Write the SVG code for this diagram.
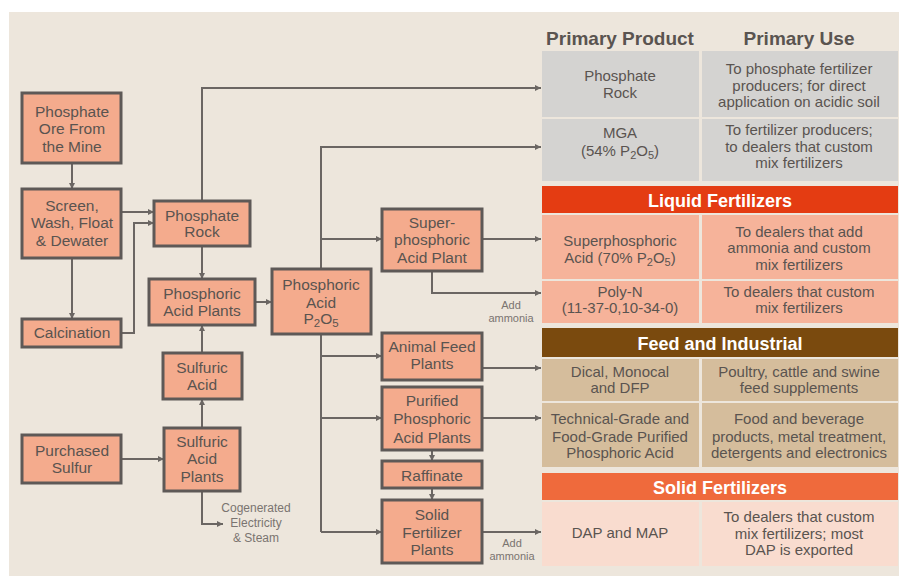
<svg xmlns="http://www.w3.org/2000/svg" width="899" height="576" viewBox="0 0 899 576">
<style>
.node rect{fill:#F4AB8D;stroke:#5E5957;stroke-width:3}
text{font-family:"Liberation Sans","Open Sans",sans-serif;fill:#5A5450;text-anchor:middle}
.n{font-size:15.5px}
.sm{font-size:12px;fill:#7A7470}
.am{font-size:11px;fill:#7A7470}
.t{font-size:15px}
.hd{font-size:19px;font-weight:bold;fill:#5A5450}
.sec{font-size:18px;font-weight:bold;fill:#ffffff}
.conn path{fill:none;stroke:#6B6663;stroke-width:2}
</style>
<defs>
<marker id="ah" viewBox="0 0 10 10" refX="10" refY="5" markerWidth="6" markerHeight="6" markerUnits="userSpaceOnUse" orient="auto">
<path d="M0,0 L10,5 L0,10 Z" fill="#6B6663"/>
</marker>
</defs>
<rect x="0" y="0" width="899" height="576" fill="#ffffff"/>
<rect x="9" y="12" width="890" height="564" fill="#EDE6DC"/>

<!-- table -->
<g id="table">
<text class="hd" x="620" y="45">Primary Product</text>
<text class="hd" x="799" y="45">Primary Use</text>
<rect x="542" y="51" width="157" height="66" fill="#D4D3D1"/>
<rect x="702" y="51" width="196" height="66" fill="#D4D3D1"/>
<rect x="542" y="119" width="157" height="62" fill="#D4D3D1"/>
<rect x="702" y="119" width="196" height="62" fill="#D4D3D1"/>
<rect x="542" y="186" width="356" height="27" fill="#E43C12"/>
<rect x="542" y="215" width="157" height="64" fill="#F6B39A"/>
<rect x="702" y="215" width="196" height="64" fill="#F6B39A"/>
<rect x="542" y="281" width="157" height="42" fill="#F6B39A"/>
<rect x="702" y="281" width="196" height="42" fill="#F6B39A"/>
<rect x="542" y="328" width="356" height="29" fill="#7A4A0E"/>
<rect x="542" y="359" width="157" height="42" fill="#D5BD9C"/>
<rect x="702" y="359" width="196" height="42" fill="#D5BD9C"/>
<rect x="542" y="403" width="157" height="64" fill="#D5BD9C"/>
<rect x="702" y="403" width="196" height="64" fill="#D5BD9C"/>
<rect x="542" y="473" width="356" height="27" fill="#EF6A3C"/>
<rect x="542" y="502" width="157" height="64" fill="#F9DCCF"/>
<rect x="702" y="502" width="196" height="64" fill="#F9DCCF"/>

<text class="t" x="620" y="81">Phosphate</text>
<text class="t" x="620" y="98">Rock</text>
<text class="t" x="799" y="74">To phosphate fertilizer</text>
<text class="t" x="799" y="91">producers; for direct</text>
<text class="t" x="799" y="107">application on acidic soil</text>

<text class="t" x="620" y="138">MGA</text>
<text class="t" x="620" y="156">(54% P<tspan font-size="11" dy="3">2</tspan><tspan dy="-3">O</tspan><tspan font-size="11" dy="3">5</tspan><tspan dy="-3">)</tspan></text>
<text class="t" x="799" y="135">To fertilizer producers;</text>
<text class="t" x="799" y="152">to dealers that custom</text>
<text class="t" x="799" y="168">mix fertilizers</text>

<text class="sec" x="720" y="207">Liquid Fertilizers</text>
<text class="t" x="620" y="246">Superphosphoric</text>
<text class="t" x="620" y="263">Acid (70% P<tspan font-size="11" dy="3">2</tspan><tspan dy="-3">O</tspan><tspan font-size="11" dy="3">5</tspan><tspan dy="-3">)</tspan></text>
<text class="t" x="799" y="237">To dealers that add</text>
<text class="t" x="799" y="253">ammonia and custom</text>
<text class="t" x="799" y="270">mix fertilizers</text>
<text class="t" x="620" y="297">Poly-N</text>
<text class="t" x="620" y="313">(11-37-0,10-34-0)</text>
<text class="t" x="799" y="297">To dealers that custom</text>
<text class="t" x="799" y="313">mix fertilizers</text>

<text class="sec" x="720" y="350">Feed and Industrial</text>
<text class="t" x="620" y="377">Dical, Monocal</text>
<text class="t" x="620" y="393">and DFP</text>
<text class="t" x="799" y="377">Poultry, cattle and swine</text>
<text class="t" x="799" y="393">feed supplements</text>
<text class="t" x="620" y="424">Technical-Grade and</text>
<text class="t" x="620" y="442">Food-Grade Purified</text>
<text class="t" x="620" y="458">Phosphoric Acid</text>
<text class="t" x="799" y="424">Food and beverage</text>
<text class="t" x="799" y="442">products, metal treatment,</text>
<text class="t" x="799" y="458">detergents and electronics</text>

<text class="sec" x="720" y="494">Solid Fertilizers</text>
<text class="t" x="620" y="538">DAP and MAP</text>
<text class="t" x="799" y="522">To dealers that custom</text>
<text class="t" x="799" y="539">mix fertilizers; most</text>
<text class="t" x="799" y="555">DAP is exported</text>
</g>

<g class="conn" id="connectors">
<path d="M72,163 V189" marker-end="url(#ah)"/>
<path d="M72,258 V319" marker-end="url(#ah)"/>
<path d="M121,212 H154" marker-end="url(#ah)"/>
<path d="M121,333 H134 V223 H154" marker-end="url(#ah)"/>
<path d="M202,246 V279" marker-end="url(#ah)"/>
<path d="M202,201 V88 H541" marker-end="url(#ah)"/>
<path d="M255,302 H272" marker-end="url(#ah)"/>
<path d="M202,353 V325" marker-end="url(#ah)"/>
<path d="M202,428 V399" marker-end="url(#ah)"/>
<path d="M121,459 H164" marker-end="url(#ah)"/>
<path d="M202,491 V524 H223" marker-end="url(#ah)"/>
<path d="M321,269 V147 H541" marker-end="url(#ah)"/>
<path d="M321,334 V532"/>
<path d="M321,239 H382" marker-end="url(#ah)"/>
<path d="M321,356 H382" marker-end="url(#ah)"/>
<path d="M321,418 H382" marker-end="url(#ah)"/>
<path d="M321,532 H382" marker-end="url(#ah)"/>
<path d="M482,239 H541" marker-end="url(#ah)"/>
<path d="M432,271 V293 H541" marker-end="url(#ah)"/>
<path d="M482,368 H541" marker-end="url(#ah)"/>
<path d="M482,418 H541" marker-end="url(#ah)"/>
<path d="M482,532 H541" marker-end="url(#ah)"/>
<path d="M432,450 V461" marker-end="url(#ah)"/>
<path d="M432,488 V500" marker-end="url(#ah)"/>
</g>

<g id="ore" class="node"><rect x="22" y="93" width="99" height="70"/>
<text class="n" x="72" y="117">Phosphate</text><text class="n" x="72" y="134">Ore From</text><text class="n" x="72" y="152">the Mine</text></g>
<g id="screen" class="node"><rect x="22" y="189" width="99" height="69"/>
<text class="n" x="72" y="211">Screen,</text><text class="n" x="72" y="228">Wash, Float</text><text class="n" x="72" y="246">&amp; Dewater</text></g>
<g id="calcination" class="node"><rect x="22" y="319" width="99" height="28"/>
<text class="n" x="72" y="338">Calcination</text></g>
<g id="rock" class="node"><rect x="154" y="201" width="96" height="45"/>
<text class="n" x="202" y="221">Phosphate</text><text class="n" x="202" y="237">Rock</text></g>
<g id="pap" class="node"><rect x="149" y="279" width="106" height="46"/>
<text class="n" x="202" y="299">Phosphoric</text><text class="n" x="202" y="316">Acid Plants</text></g>
<g id="pa" class="node"><rect x="272" y="269" width="99" height="65"/>
<text class="n" x="321" y="290">Phosphoric</text><text class="n" x="321" y="308">Acid</text>
<text class="n" x="321" y="324">P<tspan font-size="11.5" dy="3">2</tspan><tspan dy="-3">O</tspan><tspan font-size="11.5" dy="3">5</tspan></text></g>
<g id="sa" class="node"><rect x="163" y="353" width="79" height="46"/>
<text class="n" x="202" y="373">Sulfuric</text><text class="n" x="202" y="390">Acid</text></g>
<g id="sulfur" class="node"><rect x="22" y="435" width="99" height="48"/>
<text class="n" x="72" y="456">Purchased</text><text class="n" x="72" y="473">Sulfur</text></g>
<g id="sap" class="node"><rect x="164" y="428" width="76" height="63"/>
<text class="n" x="202" y="447">Sulfuric</text><text class="n" x="202" y="464">Acid</text><text class="n" x="202" y="482">Plants</text></g>
<g id="cogen"><text class="sm" x="256" y="512">Cogenerated</text><text class="sm" x="256" y="527">Electricity</text><text class="sm" x="256" y="542">&amp; Steam</text></g>
<g id="spa" class="node"><rect x="382" y="209" width="100" height="62"/>
<text class="n" x="432" y="228">Super-</text><text class="n" x="432" y="245">phosphoric</text><text class="n" x="432" y="263">Acid Plant</text></g>
<g id="ammonia1"><text class="am" x="511" y="309">Add</text><text class="am" x="511" y="322">ammonia</text></g>
<g id="feed" class="node"><rect x="382" y="333" width="100" height="47"/>
<text class="n" x="432" y="352">Animal Feed</text><text class="n" x="432" y="369">Plants</text></g>
<g id="purified" class="node"><rect x="382" y="387" width="100" height="63"/>
<text class="n" x="432" y="406">Purified</text><text class="n" x="432" y="424">Phosphoric</text><text class="n" x="432" y="443">Acid Plants</text></g>
<g id="raffinate" class="node"><rect x="382" y="461" width="100" height="27"/>
<text class="n" x="432" y="481">Raffinate</text></g>
<g id="solid" class="node"><rect x="382" y="500" width="100" height="63"/>
<text class="n" x="432" y="520">Solid</text><text class="n" x="432" y="538">Fertilizer</text><text class="n" x="432" y="555">Plants</text></g>
<g id="ammonia2"><text class="am" x="512" y="547">Add</text><text class="am" x="512" y="560">ammonia</text></g>
</svg>
